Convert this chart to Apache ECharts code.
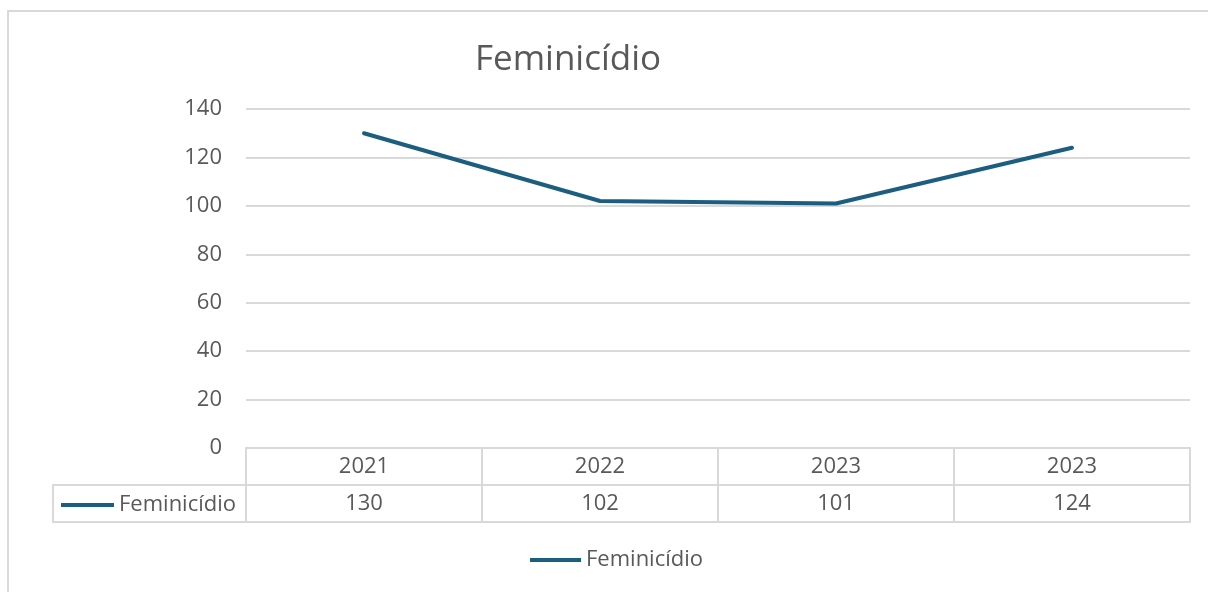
<!DOCTYPE html>
<html>
<head>
<meta charset="utf-8" />
<title>Feminicídio</title>
<style>
  html, body { margin: 0; padding: 0; background: #fff; }
  #main { width: 1208px; height: 592px; }
</style>
</head>
<body>
<div id="main"></div>
<script src="https://cdn.jsdelivr.net/npm/echarts@6/dist/echarts.min.js"></script>
<script>
var years = ['2021', '2022', '2023', '2023'];
var feminicidio = [130, 102, 101, 124];
var seriesName = 'Feminicídio';

var textColor = '#595959';
var lineColor = '#d9d9d9';
var seriesColor = '#1c5e80';
var font = '"Open Sans", "Noto Sans", sans-serif';

var chart = echarts.init(document.getElementById('main'));

var option = {
    backgroundColor: '#fff',
    animation: false,
    color: [seriesColor],
    title: {
        text: seriesName,
        left: 563,
        top: 38,
        textAlign: 'center',
        textStyle: { color: textColor, fontSize: 35, fontWeight: 'normal', fontFamily: font }
    },
    legend: [{
        data: [seriesName],
        left: 61,
        top: 494,
        padding: 0,
        itemWidth: 53,
        itemHeight: 4,
        icon: 'rect',
        textStyle: { color: textColor, fontSize: 22, fontFamily: font }
    }, {
        data: [seriesName],
        left: 530,
        top: 549,
        padding: 0,
        itemWidth: 51,
        itemHeight: 4,
        icon: 'rect',
        textStyle: { color: textColor, fontSize: 22, fontFamily: font }
    }],
    grid: { left: 246, right: 18, top: 109, bottom: 144, containLabel: false },
    xAxis: [{
        type: 'category',
        data: years,
        boundaryGap: true,
        axisLine: { lineStyle: { color: lineColor, width: 2 } },
        axisTick: { show: true, length: 74, lineStyle: { color: lineColor, width: 2 } },
        axisLabel: { color: textColor, fontSize: 22, fontFamily: font, margin: 8 }
    }, {
        type: 'category',
        data: feminicidio.map(String),
        position: 'bottom',
        offset: 37,
        boundaryGap: true,
        axisLine: { lineStyle: { color: lineColor, width: 2 } },
        axisTick: { show: false },
        axisLabel: { color: textColor, fontSize: 22, fontFamily: font, margin: 8 }
    }, {
        type: 'category',
        data: years,
        position: 'bottom',
        offset: 74,
        axisLine: { lineStyle: { color: lineColor, width: 2 } },
        axisTick: { show: false },
        axisLabel: { show: false }
    }],
    yAxis: {
        type: 'value',
        min: 0,
        max: 140,
        interval: 20,
        axisLine: { show: false },
        axisTick: { show: false },
        axisLabel: { color: textColor, fontSize: 22, fontFamily: font, margin: 24 },
        splitLine: { lineStyle: { color: lineColor, width: 2 } }
    },
    series: [{
        name: seriesName,
        type: 'line',
        data: feminicidio,
        symbol: 'none',
        lineStyle: { color: seriesColor, width: 4, cap: 'round' }
    }],
    graphic: [
        // outer chart border
        { type: 'line', shape: { x1: 7, y1: 11, x2: 1208, y2: 11 }, style: { stroke: lineColor, lineWidth: 2 } },
        { type: 'line', shape: { x1: 8, y1: 11, x2: 8, y2: 592 }, style: { stroke: lineColor, lineWidth: 2 } },
        // legend cell of the data table
        { type: 'rect', shape: { x: 53, y: 485, width: 193, height: 37 }, style: { fill: 'none', stroke: lineColor, lineWidth: 2 }, z: -1 }
    ]
};

chart.setOption(option);
</script>
</body>
</html>
